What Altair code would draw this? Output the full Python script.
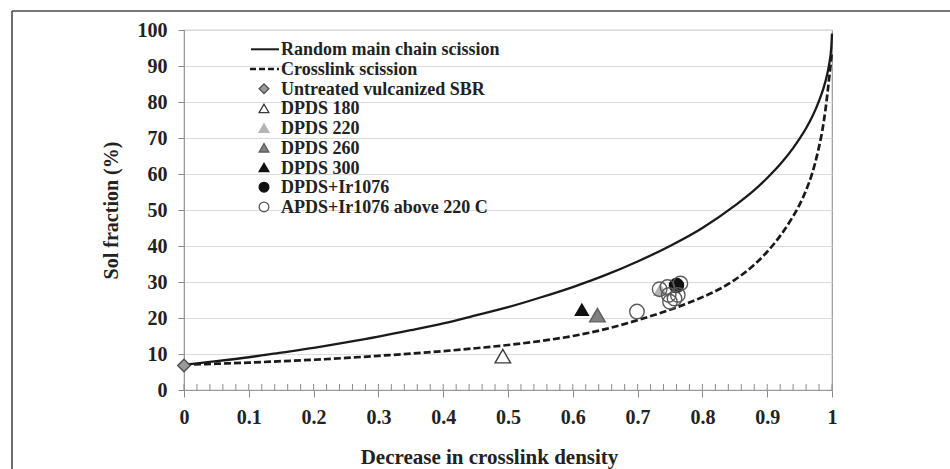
import altair as alt
import pandas as pd

FONT = "Liberation Serif"
INK = "#222222"

# Reference curves: sol fraction (%) against the decrease in crosslink density
solid_x = [0, 0.05, 0.1, 0.15, 0.2, 0.25, 0.3, 0.35, 0.4, 0.45, 0.5, 0.55, 0.6, 0.65, 0.7,
           0.75, 0.8, 0.85, 0.88, 0.9, 0.92, 0.94, 0.95, 0.96, 0.97, 0.98, 0.99, 0.995, 0.999, 1.0]
random_scission = [7.0, 8.0, 9.1, 10.4, 11.7, 13.2, 14.8, 16.6, 18.5, 20.7, 23.0, 25.7, 28.6, 31.9, 35.7,
                   40.0, 45.0, 51.2, 55.5, 58.9, 62.7, 67.2, 69.8, 72.7, 76.1, 80.3, 85.8, 89.9, 95.4, 99.0]

dashed_x = [0, 0.05, 0.1, 0.15, 0.2, 0.25, 0.3, 0.35, 0.4, 0.45, 0.5, 0.55, 0.6, 0.65, 0.7,
            0.75, 0.8, 0.825, 0.85, 0.875, 0.9, 0.92, 0.935, 0.95, 0.96, 0.97, 0.978, 0.985,
            0.99, 0.994, 0.997, 1.0]
crosslink_scission = [7.0, 7.3, 7.6, 8.0, 8.4, 8.9, 9.5, 10.1, 10.8, 11.6, 12.5, 13.6, 15.0, 16.9, 19.4,
                      22.3, 25.8, 27.9, 30.6, 34.0, 38.4, 42.8, 46.8, 51.5, 55.5, 60.5, 66.0, 72.0,
                      78.0, 84.0, 89.0, 94.0]

# Measured samples
series_order = ["Untreated vulcanized SBR", "DPDS 180", "DPDS 220", "DPDS 260", "DPDS 300",
                "DPDS+Ir1076", "APDS+Ir1076 above 220 C"]
series_shape = ["diamond", "triangle-up", "triangle-up", "triangle-up", "triangle-up", "circle", "circle"]
series_fill = ["#9a9a9a", "#ffffff", "#b4b4b4", "#808080", "#111111", "#111111", "transparent"]
series_stroke = ["#505050", "#3a3a3a", "#b4b4b4", "#5e5e5e", "#111111", "#111111", "#5a5a5a"]

sample_series = ["Untreated vulcanized SBR", "DPDS 180", "DPDS 220", "DPDS 260", "DPDS 300",
                 "DPDS+Ir1076",
                 "APDS+Ir1076 above 220 C", "APDS+Ir1076 above 220 C", "APDS+Ir1076 above 220 C",
                 "APDS+Ir1076 above 220 C", "APDS+Ir1076 above 220 C", "APDS+Ir1076 above 220 C",
                 "APDS+Ir1076 above 220 C", "APDS+Ir1076 above 220 C"]
sample_x = [0.0, 0.492, 0.735, 0.638, 0.614, 0.760,
            0.699, 0.734, 0.746, 0.750, 0.757, 0.762, 0.766, 0.748]
sample_y = [6.8, 9.4, 27.8, 20.8, 22.3, 29.0,
            21.8, 28.0, 28.6, 24.5, 25.4, 26.4, 29.6, 26.4]
sample_size = [160, 240, 150, 240, 170, 200,
               210, 210, 210, 210, 210, 210, 210, 210]

x_scale = alt.Scale(domain=[0, 1], nice=False, zero=False)
y_scale = alt.Scale(domain=[0, 100], nice=False)

x_axis = alt.Axis(
    values=[0, 0.1, 0.2, 0.3, 0.4, 0.5, 0.6, 0.7, 0.8, 0.9, 1],
    format="~g", grid=False, domainColor="#9a9a9a", tickColor="#8a8a8a", tickSize=7,
    labelFont=FONT, labelFontSize=20, labelFontWeight="bold", labelColor=INK,
    labelPadding=10, labelFlush=False, labelOverlap=False,
    title="Decrease in crosslink density", titleFont=FONT, titleFontSize=21,
    titleFontWeight="bold", titleColor=INK, titleX=305, titleY=73,
    titleBaseline="alphabetic", titleAlign="center",
)
y_axis = alt.Axis(
    values=[0, 10, 20, 30, 40, 50, 60, 70, 80, 90, 100], tickCount=11,
    grid=True, gridColor="#dcdcdc", gridWidth=1.2,
    domainColor="#9a9a9a", tickColor="#8a8a8a", tickSize=6,
    labelFont=FONT, labelFontSize=20, labelFontWeight="bold", labelColor=INK,
    labelPadding=11, labelFlush=False, labelOverlap=False,
    title="Sol fraction (%)", titleFont=FONT, titleFontSize=20, titleFontWeight="bold",
    titleColor=INK, titlePadding=16,
)


def xq(field):
    return alt.X(field, type="quantitative", scale=x_scale, axis=x_axis)


def yq(field):
    return alt.Y(field, type="quantitative", scale=y_scale, axis=y_axis)


solid_df = pd.DataFrame({"x": solid_x, "y": random_scission})
dashed_df = pd.DataFrame({"x": dashed_x, "y": crosslink_scission})

# outer frame: left and top edges of the figure box
one_row = pd.DataFrame({"k": [0]})
frame_left = alt.Chart(one_row).mark_rule(color="#4a4a4a", strokeWidth=1.6).encode(
    x=alt.value(-172), y=alt.value(-19), y2=alt.value(460))
frame_top = alt.Chart(one_row).mark_rule(color="#4a4a4a", strokeWidth=1.6).encode(
    x=alt.value(-172), x2=alt.value(780), y=alt.value(-19))

# inward minor ticks along the x axis
minor = alt.Chart(pd.DataFrame({"t": [i / 50 for i in range(51)]})).mark_rule(
    color="#8a8a8a", strokeWidth=1
).encode(x=xq("t"), y=alt.value(360), y2=alt.value(354))

solid = alt.Chart(solid_df).mark_line(
    color="#1a1a1a", strokeWidth=2.3, interpolate="monotone"
).encode(x=xq("x"), y=yq("y"))

dashed = alt.Chart(dashed_df).mark_line(
    color="#1a1a1a", strokeWidth=2.7, strokeDash=[7, 3], interpolate="monotone"
).encode(x=xq("x"), y=yq("y"))

samples = pd.DataFrame({"series": sample_series, "x": sample_x, "y": sample_y, "size": sample_size,
                        "order": list(range(len(sample_x)))})

shape_enc = alt.Shape("series:N", scale=alt.Scale(domain=series_order, range=series_shape), legend=None)
fill_enc = alt.Fill("series:N", scale=alt.Scale(domain=series_order, range=series_fill), legend=None)
stroke_enc = alt.Stroke("series:N", scale=alt.Scale(domain=series_order, range=series_stroke), legend=None)

points = alt.Chart(samples).mark_point(opacity=1, fillOpacity=1, strokeWidth=1.4).encode(
    x=xq("x"), y=yq("y"),
    shape=shape_enc, fill=fill_enc, stroke=stroke_enc,
    size=alt.Size("size:Q", scale=None, legend=None),
    order=alt.Order("order:Q"),
)

# legend block in the upper left of the plot
legend_layers = []
row0, step = 19.3, 19.7
legend_labels = ["Random main chain scission", "Crosslink scission"] + series_order
for i, label in enumerate(legend_labels):
    yy = row0 + i * step
    one = pd.DataFrame({"series": [label]})
    if i == 0:
        legend_layers.append(alt.Chart(one).mark_rule(color="#1a1a1a", strokeWidth=2).encode(
            x=alt.value(67), x2=alt.value(95), y=alt.value(yy)))
    elif i == 1:
        legend_layers.append(alt.Chart(one).mark_rule(color="#1a1a1a", strokeWidth=2.4,
                                                       strokeDash=[6, 3]).encode(
            x=alt.value(66), x2=alt.value(95), y=alt.value(yy)))
    else:
        legend_layers.append(alt.Chart(one).mark_point(opacity=1, fillOpacity=1, strokeWidth=1.3,
                                                        size=95).encode(
            x=alt.value(80), y=alt.value(yy), shape=shape_enc, fill=fill_enc, stroke=stroke_enc))
    legend_layers.append(alt.Chart(one).mark_text(
        align="left", baseline="middle", font=FONT, fontSize=18, fontWeight="bold", color=INK
    ).encode(x=alt.value(97), y=alt.value(yy + 1), text="series:N"))

chart = alt.layer(frame_left, frame_top, minor, solid, dashed, points, *legend_layers).properties(
    width=648, height=360,
    padding={"left": 184, "top": 30, "right": 118, "bottom": 79},
    autosize=alt.AutoSizeParams(type="none"),
    background="white",
).configure_view(stroke="#9a9a9a", strokeWidth=1.2)

chart.save("out.html", embed_options={"renderer": "svg", "actions": False})
